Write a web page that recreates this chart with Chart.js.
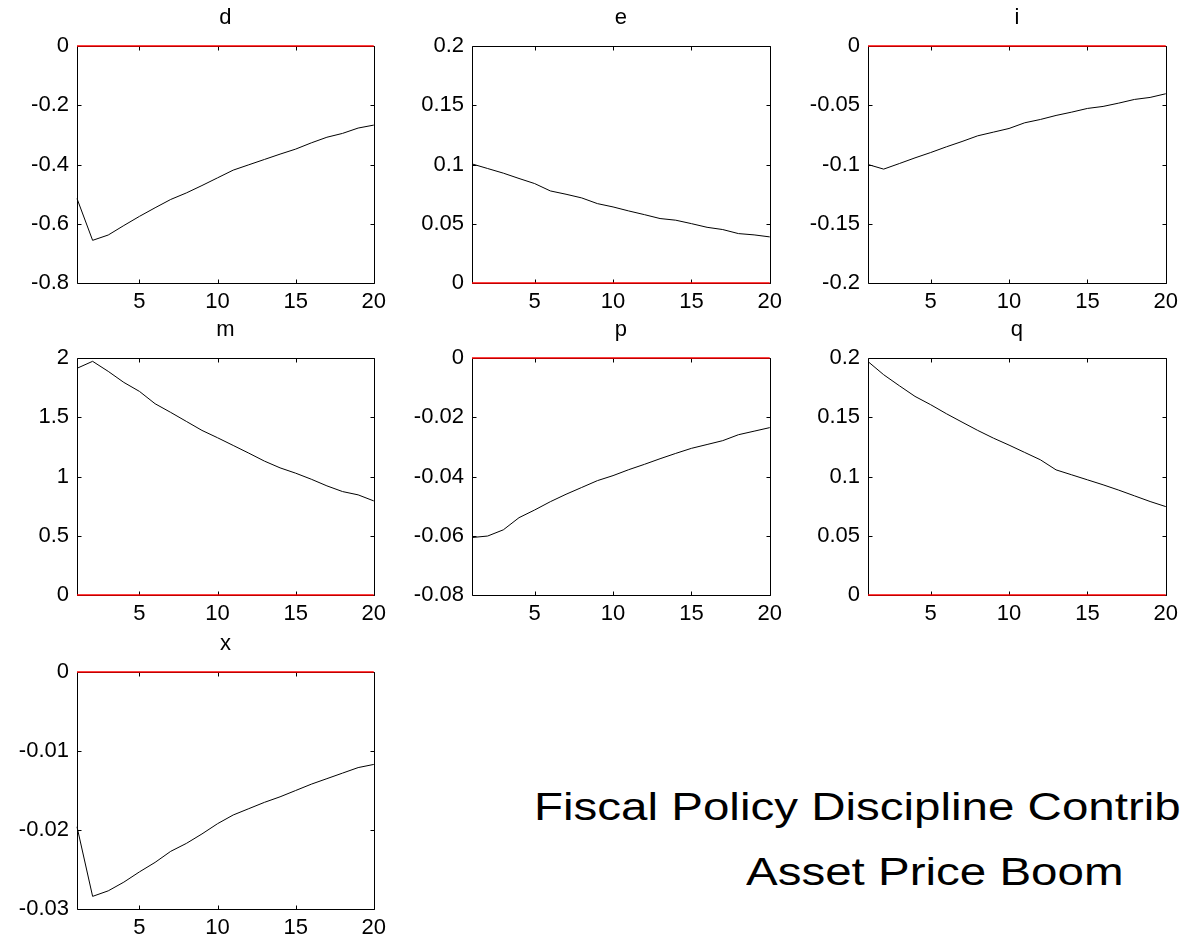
<!DOCTYPE html>
<html>
<head>
<meta charset="utf-8">
<script src="https://cdn.jsdelivr.net/npm/chart.js@4/dist/chart.umd.min.js"></script>
<style>
  html, body { margin: 0; padding: 0; background: #fff; }
  body { width: 1184px; height: 939px; overflow: hidden; position: relative; }
  canvas { position: absolute; }
  .note {
    position: absolute;
    font-family: "Liberation Sans", Arial, sans-serif;
    font-size: 38px;
    line-height: 38px;
    white-space: nowrap;
    color: #000;
    transform: scaleX(1.25);
    transform-origin: 0 0;
  }
</style>
</head>
<body>
<div class="note" style="left:534px; top:788px;">Fiscal Policy Discipline Contrib</div>
<div class="note" style="left:746px; top:853px;">Asset Price Boom</div>
<script>
// Horizon (periods after the shock)
const periods = [1, 2, 3, 4, 5, 6, 7, 8, 9, 10, 11, 12, 13, 14, 15, 16, 17, 18, 19, 20];
const xTicks = [5, 10, 15, 20];
const xTickLabels = ['5', '10', '15', '20'];

// Impulse responses per variable
const dValues = [-0.515, -0.656, -0.638, -0.606, -0.575, -0.546, -0.518, -0.496, -0.471, -0.445,
                 -0.419, -0.401, -0.383, -0.365, -0.348, -0.327, -0.308, -0.295, -0.277, -0.267];
const eValues = [0.1005, 0.0966, 0.0927, 0.0882, 0.0839, 0.0777, 0.0749, 0.0718, 0.0670, 0.0642,
                 0.0608, 0.0577, 0.0544, 0.0530, 0.0501, 0.0470, 0.0451, 0.0417, 0.0406, 0.0389];
const iValues = [-0.1000, -0.1039, -0.0992, -0.0944, -0.0899, -0.0851, -0.0806, -0.0758, -0.0727, -0.0696,
                 -0.0648, -0.0620, -0.0586, -0.0558, -0.0527, -0.0510, -0.0482, -0.0451, -0.0434, -0.0403];
const mValues = [1.913, 1.972, 1.887, 1.794, 1.718, 1.614, 1.541, 1.465, 1.389, 1.327,
                 1.262, 1.197, 1.130, 1.073, 1.028, 0.977, 0.921, 0.873, 0.845, 0.794];
const pValues = [-0.0606, -0.0601, -0.0580, -0.0539, -0.0513, -0.0485, -0.0460, -0.0437, -0.0414, -0.0397,
                 -0.0377, -0.0359, -0.0340, -0.0322, -0.0305, -0.0292, -0.0279, -0.0259, -0.0247, -0.0235];
const qValues = [0.1970, 0.1859, 0.1766, 0.1676, 0.1606, 0.1530, 0.1459, 0.1389, 0.1324, 0.1265,
                 0.1203, 0.1141, 0.1056, 0.1014, 0.0972, 0.0930, 0.0885, 0.0837, 0.0789, 0.0746];
const xValues = [-0.0196, -0.0284, -0.0277, -0.0266, -0.0253, -0.0241, -0.0227, -0.0217, -0.0205, -0.0192,
                 -0.0181, -0.0173, -0.0165, -0.0158, -0.0150, -0.0142, -0.0135, -0.0128, -0.0121, -0.0117];

// Y-axis ticks per variable
const dTicks = [-0.8, -0.6, -0.4, -0.2, 0];
const dTickLabels = ['-0.8', '-0.6', '-0.4', '-0.2', '0'];
const eTicks = [0, 0.05, 0.1, 0.15, 0.2];
const eTickLabels = ['0', '0.05', '0.1', '0.15', '0.2'];
const iTicks = [-0.2, -0.15, -0.1, -0.05, 0];
const iTickLabels = ['-0.2', '-0.15', '-0.1', '-0.05', '0'];
const mTicks = [0, 0.5, 1, 1.5, 2];
const mTickLabels = ['0', '0.5', '1', '1.5', '2'];
const pTicks = [-0.08, -0.06, -0.04, -0.02, 0];
const pTickLabels = ['-0.08', '-0.06', '-0.04', '-0.02', '0'];
const qTicks = [0, 0.05, 0.1, 0.15, 0.2];
const qTickLabels = ['0', '0.05', '0.1', '0.15', '0.2'];
const xvTicks = [-0.03, -0.02, -0.01, 0];
const xvTickLabels = ['-0.03', '-0.02', '-0.01', '0'];

const panels = [
  { name: 'd', values: dValues, ticks: dTicks, labels: dTickLabels, row: 0, col: 0 },
  { name: 'e', values: eValues, ticks: eTicks, labels: eTickLabels, row: 0, col: 1 },
  { name: 'i', values: iValues, ticks: iTicks, labels: iTickLabels, row: 0, col: 2 },
  { name: 'm', values: mValues, ticks: mTicks, labels: mTickLabels, row: 1, col: 0 },
  { name: 'p', values: pValues, ticks: pTicks, labels: pTickLabels, row: 1, col: 1 },
  { name: 'q', values: qValues, ticks: qTicks, labels: qTickLabels, row: 1, col: 2 },
  { name: 'x', values: xValues, ticks: xvTicks, labels: xvTickLabels, row: 2, col: 0 }
];

// Subplot grid geometry (plot box positions on the page)
const colLeft = [77, 472, 868];
const colWidth = [297, 298, 298];
const rowTop = [46, 358, 672];
const boxH = 237;
const axisW = 77;     // room for y tick labels
const titleH = 46;    // room for the subplot title
const axisH = 30;     // room for x tick labels
const padRight = 18;

Chart.defaults.font.family = '"Liberation Sans", Arial, Helvetica, sans-serif';
Chart.defaults.font.size = 22;
Chart.defaults.color = '#000';

// Closed axes box with inward tick marks on all four sides
const framePlugin = {
  id: 'frame',
  beforeDatasetsDraw(chart) {
    const { ctx, chartArea: a, scales } = chart;
    const L = Math.round(a.left) + 0.5, R = Math.round(a.right) + 0.5;
    const T = Math.round(a.top) + 0.5, B = Math.round(a.bottom) + 0.5;
    const tl = 4;
    ctx.save();
    ctx.strokeStyle = '#000';
    ctx.lineWidth = 1;
    ctx.beginPath();
    ctx.rect(L, T, R - L, B - T);
    scales.x.ticks.forEach(tk => {
      const px = Math.round(scales.x.getPixelForValue(tk.value)) + 0.5;
      ctx.moveTo(px, B); ctx.lineTo(px, B - tl);
      ctx.moveTo(px, T); ctx.lineTo(px, T + tl);
    });
    scales.y.ticks.forEach(tk => {
      const py = Math.round(scales.y.getPixelForValue(tk.value)) + 0.5;
      ctx.moveTo(L, py); ctx.lineTo(L + tl, py);
      ctx.moveTo(R, py); ctx.lineTo(R - tl, py);
    });
    ctx.stroke();
    ctx.restore();
  }
};

panels.forEach(pn => {
  const canvas = document.createElement('canvas');
  const w = axisW + colWidth[pn.col] + padRight;
  const h = titleH + boxH + axisH;
  canvas.width = w;
  canvas.height = h;
  canvas.style.width = w + 'px';
  canvas.style.height = h + 'px';
  canvas.style.left = (colLeft[pn.col] - axisW) + 'px';
  canvas.style.top = (rowTop[pn.row] - titleH) + 'px';
  document.body.appendChild(canvas);

  new Chart(canvas, {
    type: 'line',
    data: {
      datasets: [
        {
          data: periods.map(p => ({ x: p, y: 0 })),
          borderColor: '#ff0000',
          borderWidth: 1.5,
          pointRadius: 0,
          tension: 0,
          clip: false
        },
        {
          data: periods.map((p, k) => ({ x: p, y: pn.values[k] })),
          borderColor: '#000000',
          borderWidth: 1,
          pointRadius: 0,
          tension: 0,
          clip: false
        }
      ]
    },
    options: {
      responsive: false,
      animation: false,
      devicePixelRatio: 1,
      layout: { padding: { left: 0, top: 0, right: padRight, bottom: 0 } },
      plugins: {
        legend: { display: false },
        tooltip: { enabled: false },
        title: {
          display: true,
          text: pn.name,
          fullSize: false,
          color: '#000',
          font: { size: 22, weight: 'normal', lineHeight: 1.2 },
          padding: { top: 5, bottom: 14.6 }
        }
      },
      scales: {
        x: {
          type: 'linear',
          min: 1,
          max: 20,
          grid: { display: false, drawTicks: false },
          border: { display: false },
          afterBuildTicks: s => { s.ticks = xTicks.map(v => ({ value: v })); },
          afterFit: s => { s.height = axisH; },
          ticks: {
            autoSkip: false,
            maxRotation: 0,
            padding: 6,
            color: '#000',
            callback: (v, k) => xTickLabels[k]
          }
        },
        y: {
          type: 'linear',
          min: pn.ticks[0],
          max: pn.ticks[pn.ticks.length - 1],
          grid: { display: false, drawTicks: false },
          border: { display: false },
          afterBuildTicks: s => { s.ticks = pn.ticks.map(v => ({ value: v })); },
          afterFit: s => { s.width = axisW; },
          ticks: {
            autoSkip: false,
            padding: 8,
            color: '#000',
            callback: (v, k) => pn.labels[k]
          }
        }
      }
    },
    plugins: [framePlugin]
  });
});
</script>
</body>
</html>
